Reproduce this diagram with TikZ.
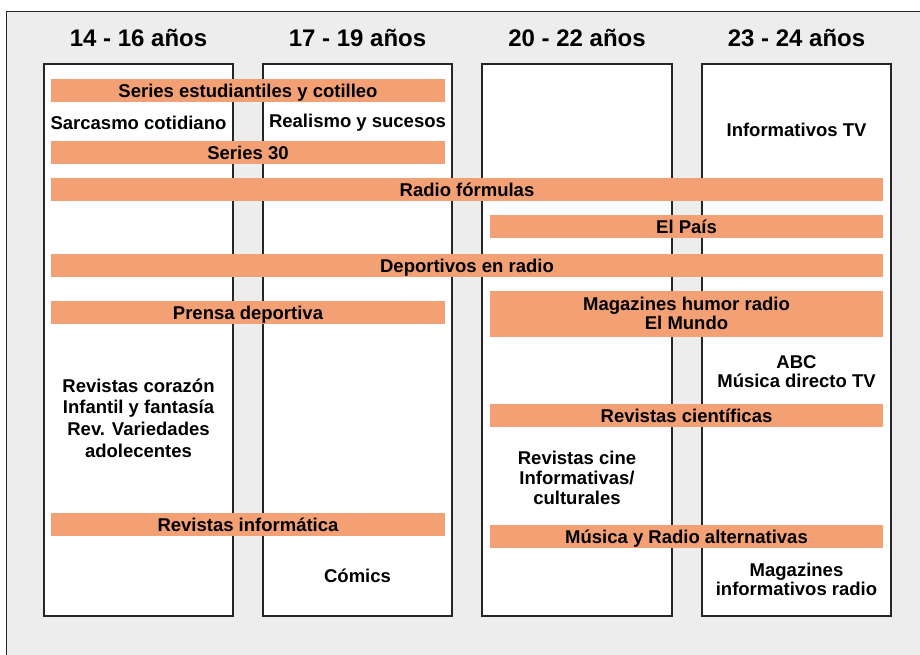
\documentclass[tikz,border=0pt]{standalone}
\usepackage{fontspec}
\setmainfont{Liberation Sans}
\definecolor{bargc}{HTML}{F2A074}
\definecolor{bgc}{HTML}{EDEDED}
\begin{document}
\begin{tikzpicture}[x=1pt,y=-1pt,
  col/.style={draw=black!85,line width=1.3pt,fill=white},
  bar/.style={fill=bargc,inner sep=0pt,font=\bfseries\fontsize{18.5}{19}\selectfont,align=center},
  sbar/.style={bar,text height=13.2pt,text depth=0pt,minimum height=23pt},
  hdr/.style={font=\bfseries\fontsize{24}{28}\selectfont},
  lbl/.style={font=\bfseries\fontsize{18.5}{19}\selectfont,align=center,inner sep=0pt}]
\useasboundingbox (0,0) rectangle (920,654);
\clip (0,0) rectangle (920,654);
\draw[fill=bgc,draw=black!85,line width=1pt] (6,11) rectangle (930,664);
% columns
\draw[col] (44,64) rectangle (233,616);
\draw[col] (263,64) rectangle (452,616);
\draw[col] (482,64) rectangle (672,616);
\draw[col] (702,64) rectangle (891,616);
% headers
\node[hdr] (h1) at (138.5,38) {14 - 16 años};
\node[hdr] (h2) at (357.5,38) {17 - 19 años};
\node[hdr] (h3) at (577,38) {20 - 22 años};
\node[hdr] (h4) at (796.5,38) {23 - 24 años};
% bars
\node[sbar,minimum width=394pt] (b1) at (248,90.5) {Series estudiantiles y cotilleo};
\node[sbar,minimum width=394pt] (b2) at (248,152.5) {Series 30};
\node[sbar,minimum width=832pt] (b3) at (467,189.5) {Radio fórmulas};
\node[sbar,minimum width=393pt] (b4) at (686.5,226.5) {El País};
\node[sbar,minimum width=832pt] (b5) at (467,265.5) {Deportivos en radio};
\node[sbar,minimum width=394pt] (b6) at (248,312.5) {Prensa deportiva};
\node[bar,minimum width=393pt,minimum height=45.5pt] (b7) at (686.5,313.75) {Magazines humor radio\\El Mundo};
\node[sbar,minimum width=393pt] (b8) at (686.5,415.5) {Revistas científicas};
\node[sbar,minimum width=394pt] (b9) at (248,524.5) {Revistas informática};
\node[sbar,minimum width=393pt] (b10) at (686.5,536.5) {Música y Radio alternativas};
% labels
\node[lbl] (t1) at (138.5,123) {Sarcasmo cotidiano};
\node[lbl] (t2) at (357.5,123) {Realismo y sucesos};
\node[lbl] (t3) at (796.5,130) {Informativos TV};
\node[lbl] (t4) at (796.5,371.5) {ABC\\Música directo TV};
\node[lbl,font=\bfseries\fontsize{18.5}{21.7}\selectfont] (t5) at (138.5,418) {Revistas corazón\\Infantil y fantasía\\Rev. Variedades\\adolecentes};
\node[lbl,font=\bfseries\fontsize{18.5}{20}\selectfont] (t6) at (577,478) {Revistas cine\\Informativas/\\culturales};
\node[lbl] (t7) at (357.5,576) {Cómics};
\node[lbl] (t8) at (796.5,579.5) {Magazines\\informativos radio};
\end{tikzpicture}
\end{document}
